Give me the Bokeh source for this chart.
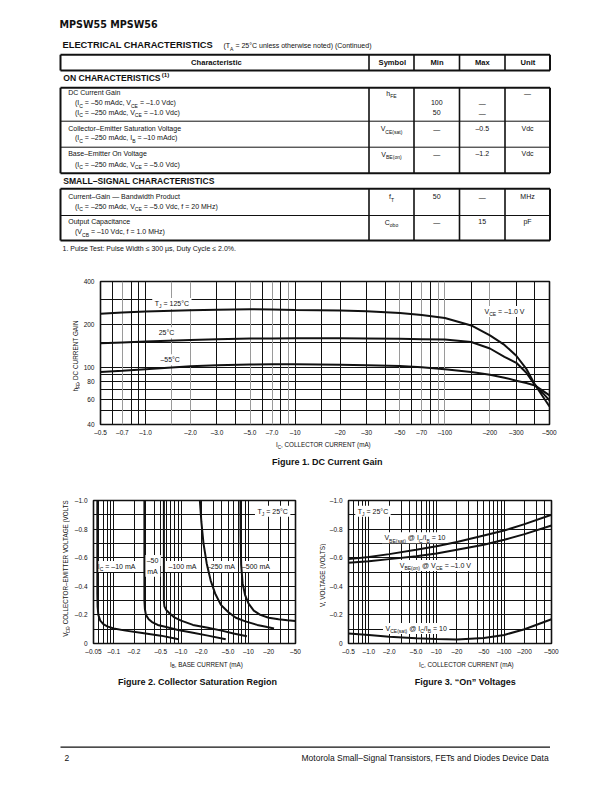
import math
import re
from bokeh.plotting import figure
from bokeh.models import FixedTicker, Grid, Range1d
from bokeh.layouts import column, row
from bokeh.core.properties import value
from bokeh.embed import file_html
from bokeh.resources import INLINE

FONT = "Liberation Sans"
INK = "#111111"
GRAY = "#9a9a9a"

# ---------------- Figure 1: DC current gain ----------------
fig1_ic = [0.5, 0.7, 1.0, 2.0, 3.0, 5.0, 7.0, 10, 20, 30, 50, 70, 100, 150, 200, 250, 300, 350, 400, 450, 500]
fig1_hfe_125 = [238, 243, 247, 252, 254, 256, 255, 253, 251, 248, 241, 233, 222, 197, 168, 144, 121, 98, 76, 63, 53.5]
fig1_hfe_25 = [148, 150, 152, 156, 158, 159.5, 160, 160.5, 160.5, 160, 159, 158, 157, 151, 136, 119, 108, 92, 75.5, 66.5, 59]
fig1_hfe_m55 = [93, 95, 97.5, 102, 104, 105, 105.5, 105.5, 104.5, 104, 102.5, 100.5, 97.5, 93, 89, 85, 81, 78, 75, 69, 64]
fig1_xticks = [0.5, 0.7, 1.0, 2.0, 3.0, 5.0, 7.0, 10, 20, 30, 50, 70, 100, 200, 300, 500]
fig1_xlabels = ["–0.5", "–0.7", "–1.0", "–2.0", "–3.0", "–5.0", "–7.0", "–10", "–20", "–30",
                "–50", "–70", "–100", "–200", "–300", "–500"]
fig1_yticks = [40, 60, 80, 100, 200, 400]
fig1_ylabels = ["40", "60", "80", "100", "200", "400"]
fig1_xgrid = [0.6, 0.8, 0.9, 1.0, 3, 4, 6, 8, 10, 15, 20, 30, 40, 60, 80, 150, 300, 400]
fig1_xgrid_light = [0.7, 1.5, 2, 5, 7, 9, 50, 70, 90, 100, 200]
fig1_ygrid = [50, 60, 70, 80, 90, 100, 150, 200, 300]
fig1_labels = [("T_{J} = 125°C", 1.5, 281), ("25°C", 1.38, 175), ("–55°C", 1.46, 113.5),
               ("V_{CE} = –1.0 V", 250, 247)]

# ---------------- Figure 2: collector saturation region ----------------
fig2_ib_10 = [0.057, 0.057, 0.0575, 0.059, 0.063, 0.07, 0.08, 0.1, 0.15, 0.25, 0.5, 0.92]
fig2_vce_10 = [1.0, 0.35, 0.26, 0.20, 0.16, 0.135, 0.12, 0.105, 0.09, 0.075, 0.055, 0.03]
fig2_ib_50 = [0.285, 0.285, 0.29, 0.30, 0.33, 0.37, 0.45, 0.6, 0.9, 1.5, 2.5, 4.6]
fig2_vce_50 = [1.0, 0.30, 0.24, 0.20, 0.17, 0.15, 0.13, 0.115, 0.095, 0.075, 0.055, 0.03]
fig2_ib_100 = [0.555, 0.555, 0.565, 0.6, 0.66, 0.78, 1.0, 1.5, 2.5, 4.0, 6.0, 9.5]
fig2_vce_100 = [1.0, 0.30, 0.26, 0.235, 0.215, 0.185, 0.16, 0.13, 0.11, 0.09, 0.07, 0.05]
fig2_ib_250 = [1.9, 2.0, 2.15, 2.4, 2.75, 3.2, 3.9, 5.0, 6.5, 9.0, 13.5, 19, 24]
fig2_vce_250 = [1.0, 0.85, 0.70, 0.56, 0.44, 0.35, 0.27, 0.22, 0.18, 0.155, 0.13, 0.115, 0.105]
fig2_ib_500 = [7.6, 7.65, 7.8, 8.2, 8.9, 10, 12, 15, 20, 28, 38, 50]
fig2_vce_500 = [1.0, 0.75, 0.55, 0.42, 0.34, 0.28, 0.23, 0.2, 0.18, 0.17, 0.163, 0.158]
fig2_xticks = [0.05, 0.1, 0.2, 0.5, 1.0, 2.0, 5.0, 10, 20, 50]
fig2_xlabels = ["–0.05", "–0.1", "–0.2", "–0.5", "–1.0", "–2.0", "–5.0", "–10", "–20", "–50"]
fig2_xgrid = [0.06, 0.07, 0.08, 0.09, 0.1, 0.2, 0.3, 0.4, 0.5, 0.6, 0.7, 0.8, 0.9, 1, 2, 3, 4, 5,
              6, 7, 8, 9, 10, 20, 30, 40]
fig2_labels = [("I_{C} = –10 mA", 0.11, 0.539), ("–50", 0.376, 0.581), ("mA", 0.376, 0.505),
               ("–100 mA", 1.05, 0.539), ("–250 mA", 3.9, 0.539), ("–500 mA", 12.9, 0.539),
               ("T_{J} = 25°C", 22.9, 0.925)]

# ---------------- Figure 3: "On" voltages ----------------
fig3_ic = [0.5, 1.0, 2.0, 5.0, 10, 20, 50, 100, 200, 500]
fig3_vbe_sat = [0.59, 0.605, 0.625, 0.655, 0.68, 0.71, 0.755, 0.79, 0.835, 0.90]
fig3_vbe_on = [0.565, 0.575, 0.59, 0.61, 0.63, 0.655, 0.69, 0.725, 0.765, 0.825]
fig3_vce_sat = [0.07, 0.06, 0.048, 0.037, 0.031, 0.028, 0.038, 0.06, 0.10, 0.17]
fig3_xticks = [0.5, 1.0, 2.0, 5.0, 10, 20, 50, 100, 200, 500]
fig3_xlabels = ["–0.5", "–1.0", "–2.0", "–5.0", "–10", "–20", "–50", "–100", "–200", "–500"]
fig3_xgrid = [0.6, 0.7, 0.8, 0.9, 1, 2, 3, 4, 5, 6, 7, 8, 9, 10, 20, 30, 40, 50, 60, 70, 80, 90,
              100, 200, 300, 400]
fig3_labels = [("T_{J} = 25°C", 1.15, 0.925), ("V_{BE(sat)} @ I_{C}/I_{B} = 10", 4.8, 0.74),
               ("V_{BE(on)} @ V_{CE} = –1.0 V", 9.6, 0.546),
               ("V_{CE(sat)} @ I_{C}/I_{B} = 10", 5.0, 0.105)]

volt_ticks = [0, 0.2, 0.4, 0.6, 0.8, 1.0]
volt_labels = ["0", "–0.2", "–0.4", "–0.6", "–0.8", "–1.0"]
volt_grid = [0.1, 0.2, 0.3, 0.4, 0.5, 0.6, 0.7, 0.8, 0.9]

# ---------------- Table content ----------------
table_head = ["Characteristic", "Symbol", "Min", "Max", "Unit"]
table_rows = [
    {"lines": ["DC Current Gain", "(I_{C} = –50 mAdc, V_{CE} = –1.0 Vdc)", "(I_{C} = –250 mAdc, V_{CE} = –1.0 Vdc)"],
     "symbol": "h_{FE}", "min": ["", "100", "50"], "max": ["", "—", "—"], "unit": ["—", "", ""]},
    {"lines": ["Collector–Emitter Saturation Voltage", "(I_{C} = –250 mAdc, I_{B} = –10 mAdc)"],
     "symbol": "V_{CE(sat)}", "min": ["—", ""], "max": ["–0.5", ""], "unit": ["Vdc", ""]},
    {"lines": ["Base–Emitter On Voltage", "(I_{C} = –250 mAdc, V_{CE} = –5.0 Vdc)"],
     "symbol": "V_{BE(on)}", "min": ["—", ""], "max": ["–1.2", ""], "unit": ["Vdc", ""]},
    {"lines": ["Current–Gain — Bandwidth Product", "(I_{C} = –250 mAdc, V_{CE} = –5.0 Vdc, f = 20 MHz)"],
     "symbol": "f_{T}", "min": ["50", ""], "max": ["—", ""], "unit": ["MHz", ""]},
    {"lines": ["Output Capacitance", "(V_{CB} = –10 Vdc, f = 1.0 MHz)"],
     "symbol": "C_{obo}", "min": ["—", ""], "max": ["15", ""], "unit": ["pF", ""]},
]

# ---------------- text helpers ----------------
W = {' ': 278, '!': 278, '"': 355, '%': 889, '&': 667, "'": 191, '(': 333, ')': 333, '+': 584,
     ',': 278, '-': 333, '.': 278, '/': 278, ':': 278, ';': 278, '<': 584, '=': 584, '>': 584,
     '@': 1015, 'A': 667, 'B': 667, 'C': 722, 'D': 722, 'E': 667, 'F': 611, 'G': 778, 'H': 722,
     'I': 278, 'J': 500, 'K': 667, 'L': 556, 'M': 833, 'N': 722, 'O': 778, 'P': 667, 'Q': 778,
     'R': 722, 'S': 667, 'T': 611, 'U': 722, 'V': 667, 'W': 944, 'X': 667, 'Y': 667, 'Z': 611,
     'a': 556, 'b': 556, 'c': 500, 'd': 556, 'e': 556, 'f': 278, 'g': 556, 'h': 556, 'i': 222,
     'j': 222, 'k': 500, 'l': 222, 'm': 833, 'n': 556, 'o': 556, 'p': 556, 'q': 556, 'r': 333,
     's': 500, 't': 278, 'u': 556, 'v': 500, 'w': 722, 'x': 500, 'y': 500, 'z': 500,
     '–': 556, '—': 1000, '−': 584, '°': 400, 'µ': 556, '≤': 549, '“': 333, '”': 333}


def tw(s, size, bold=False):
    return sum(W.get(c, 556) for c in s) * size / 1000.0 * (1.02 if bold else 1.0)


def parse(s):
    out = []
    for part in re.split(r'(_\{[^}]*\}|\^\{[^}]*\})', s):
        if not part:
            continue
        if part.startswith('_{'):
            out.append((part[2:-1], 'b'))
        elif part.startswith('^{'):
            out.append((part[2:-1], 'p'))
        else:
            out.append((part, 'n'))
    return out


SUB = 0.72
BASE = {'n': 'middle', 'b': 'top', 'p': 'bottom'}
ROT_FIX = 13.0   # empirical correction for rotated text placement


def measure(s, size, bold=False):
    total = 0.0
    for t, k in parse(s):
        total += tw(t, size if k == 'n' else size * SUB, bold)
    return total


def rich(p, x, y, s, size, align='left', bold=False, angle=0.0, mode='page', font=FONT):
    """Draw text with sub/superscripts. In 'page' mode x, y are page pixels
    (the page figures use y_data = -page_y)."""
    total = measure(s, size, bold)
    start = {'left': 0.0, 'center': -total / 2.0, 'right': -total}[align]
    pos = 0.0
    for t, k in parse(s):
        sz = size if k == 'n' else size * SUB
        lead = len(t) - len(t.lstrip(' '))
        shown = t.strip(' ')
        off = start + pos + tw(' ' * lead, sz, bold)
        pos += tw(t, sz, bold)
        if not shown:
            continue
        kw = dict(text=[shown], text_font=value(font), text_font_size=f"{sz:.2f}px",
                  text_font_style='bold' if bold else 'normal', text_color=INK,
                  text_align='left', text_baseline=BASE[k], angle=angle)
        if mode == 'page':
            if angle == 0:
                p.text(x=[x + off], y=[-y], **kw)
            else:
                p.text(x=[x], y=[-y + off - ROT_FIX], **kw)
        else:
            p.text(x=[x], y=[y], x_offset=off, **kw)
    return total


def page_fig(x0, x1, y0, y1):
    p = figure(width=x1 - x0, height=y1 - y0, x_range=Range1d(x0, x1), y_range=Range1d(-y1, -y0),
               output_backend="svg", toolbar_location=None, title=None, min_border=0,
               x_axis_location=None, y_axis_location=None)
    p.outline_line_color = None
    p.background_fill_color = "white"
    p.border_fill_color = "white"
    for g in p.grid:
        g.visible = False
    return p


def hline(p, x0, x1, ys, width):
    p.segment(x0=[x0] * len(ys), y0=[-v for v in ys], x1=[x1] * len(ys), y1=[-v for v in ys],
              line_color=INK, line_width=width)


def vline(p, xs, y0, y1, width):
    p.segment(x0=xs, y0=[-y0] * len(xs), x1=xs, y1=[-y1] * len(xs), line_color=INK, line_width=width)


def chart(width, height, xr, yr, xtype, ytype, borders):
    p = figure(width=width, height=height, x_range=Range1d(*xr), y_range=Range1d(*yr),
               x_axis_type=xtype, y_axis_type=ytype, output_backend="svg",
               toolbar_location=None, title=None,
               min_border_left=borders[0], min_border_right=borders[1],
               min_border_top=borders[2], min_border_bottom=borders[3])
    p.outline_line_color = INK
    p.outline_line_width = 1.6
    p.outline_line_alpha = 1.0
    p.background_fill_color = "white"
    p.border_fill_color = "white"
    for ax in list(p.xaxis) + list(p.yaxis):
        ax.axis_line_color = None
        ax.major_tick_line_color = None
        ax.minor_tick_line_color = None
        ax.major_tick_out = 0
        ax.major_tick_in = 0
        ax.minor_tick_out = 0
        ax.minor_tick_in = 0
        ax.axis_label = None
        ax.axis_label_standoff = 0
        ax.major_label_text_font = FONT
        ax.major_label_text_font_size = "6.5px"
        ax.major_label_text_color = INK
    p.xaxis.major_label_standoff = 4
    p.yaxis.major_label_standoff = 6
    return p


def ticks(p, xt, xl, yt, yl, xg, yg):
    p.xaxis.ticker = FixedTicker(ticks=xt)
    p.xaxis.major_label_overrides = dict(zip(xt, xl))
    p.yaxis.ticker = FixedTicker(ticks=yt)
    p.yaxis.major_label_overrides = dict(zip(yt, yl))
    p.xgrid.ticker = FixedTicker(ticks=xg)
    p.ygrid.ticker = FixedTicker(ticks=yg)
    for g in p.grid:
        g.grid_line_color = INK
        g.grid_line_width = 1
        g.grid_line_alpha = 1.0


def chart_labels(p, labels, size=7.0):
    for s, x, y in labels:
        w = measure(s, size)
        p.rect(x=[x], y=[y], width=[w + 5], height=[size + 4], width_units="screen",
               height_units="screen", fill_color="white", line_color=None)


def chart_texts(p, labels, size=7.0):
    for s, x, y in labels:
        rich(p, x, y, s, size, align='center', mode='chart')


# ---------------- header / table ----------------
hdr = page_fig(0, 604, 0, 272)
hdr.text(x=[59], y=[-24.3], text=["MPSW55 MPSW56"], text_font=value("DejaVu Sans"),
         text_font_style="bold", text_font_size="9.6px", text_baseline="middle",
         text_align="left", text_color=INK)
rich(hdr, 62, 44, "ELECTRICAL CHARACTERISTICS", 9.3, bold=True)
rich(hdr, 223, 45, "(T_{A} = 25°C unless otherwise noted) (Continued)", 7)

TX = [60, 368.5, 413.5, 459, 504.5, 549.5]
col_center = [(TX[i] + TX[i + 1]) / 2 for i in range(5)]


def box(p, top, bottom, rowlines):
    if rowlines:
        hline(p, TX[0], TX[-1], rowlines, 1)
    vline(p, TX[1:5], top, bottom, 1.6)
    hline(p, TX[0], TX[-1], [top, bottom], 2)
    vline(p, [TX[0], TX[-1]], top, bottom, 2)


box(hdr, 54.3, 70, [])
for i, h in enumerate(table_head):
    rich(hdr, col_center[i], 62, h, 7.6, align='center', bold=True)

rich(hdr, 62.7, 77, "ON CHARACTERISTICS^{(1)}", 8.6, bold=True)
box(hdr, 87.3, 172.7, [120.7, 146.7])
rich(hdr, 62.7, 180.3, "SMALL–SIGNAL CHARACTERISTICS", 8.6, bold=True)
box(hdr, 188.3, 240, [215])

row_y = [[92.3, 102.3, 111.7], [127.5, 137.3], [153.3, 163.7], [195.7, 205.7], [221, 231]]
for r, ys in zip(table_rows, row_y):
    for j, (line, yy) in enumerate(zip(r["lines"], ys)):
        rich(hdr, 67.7 if j == 0 else 74.5, yy, line, 7.0)
    rich(hdr, col_center[1], ys[0] + 0.5, r["symbol"], 7.0, align='center')
    for key, ci in (("min", 2), ("max", 3), ("unit", 4)):
        for txt, yy in zip(r[key], ys):
            if txt:
                rich(hdr, col_center[ci], yy + (1 if txt == "—" else 0), txt, 7.0, align='center')

rich(hdr, 62, 248, "1.  Pulse Test: Pulse Width ≤ 300 µs, Duty Cycle ≤ 2.0%.", 7.0)

# ---------------- Figure 1 ----------------
yt1 = page_fig(0, 80, 272, 440)
rich(yt1, 75, 352, "h_{FE}, DC CURRENT GAIN", 6.4, align='center', angle=math.pi / 2)

f1 = chart(524, 168, (0.5, 500), (40, 400), "log", "log", (19, 55, 9, 16))
ticks(f1, fig1_xticks, fig1_xlabels, fig1_yticks, fig1_ylabels, fig1_xgrid, fig1_ygrid)
f1.add_layout(Grid(dimension=0, ticker=FixedTicker(ticks=fig1_xgrid_light),
                   grid_line_color=GRAY, grid_line_width=1))
chart_labels(f1, fig1_labels)
for ys in (fig1_hfe_125, fig1_hfe_25, fig1_hfe_m55):
    f1.line(fig1_ic, ys, line_color=INK, line_width=2)
chart_texts(f1, fig1_labels)

cap1 = page_fig(0, 604, 440, 490)
rich(cap1, 323, 444, "I_{C}, COLLECTOR CURRENT (mA)", 6.3, align='center')
rich(cap1, 325, 461, "Figure 1. DC Current Gain", 9.0, align='center', bold=True)

# ---------------- Figure 2 ----------------
yt2 = page_fig(0, 70, 490, 660)
rich(yt2, 65, 568, "V_{CE}, COLLECTOR–EMITTER VOLTAGE (VOLTS)", 6.3, align='center', angle=math.pi / 2)

f2 = chart(240, 170, (0.05, 50), (0, 1.0), "log", "linear", (23, 15, 10, 17))
ticks(f2, fig2_xticks, fig2_xlabels, volt_ticks, volt_labels, fig2_xgrid, volt_grid)
chart_labels(f2, fig2_labels)
for xs, ys in ((fig2_ib_10, fig2_vce_10), (fig2_ib_50, fig2_vce_50), (fig2_ib_100, fig2_vce_100),
               (fig2_ib_250, fig2_vce_250), (fig2_ib_500, fig2_vce_500)):
    f2.line(xs, ys, line_color=INK, line_width=2)
chart_texts(f2, fig2_labels)

# ---------------- Figure 3 ----------------
yt3 = page_fig(310, 326, 490, 660)
rich(yt3, 321.7, 571, "V, VOLTAGE (VOLTS)", 6.4, align='center', angle=math.pi / 2)

f3 = chart(278, 170, (0.5, 500), (0, 1.0), "log", "linear", (21, 53, 10, 17))
ticks(f3, fig3_xticks, fig3_xlabels, volt_ticks, volt_labels, fig3_xgrid, volt_grid)
chart_labels(f3, fig3_labels)
for ys in (fig3_vbe_sat, fig3_vbe_on, fig3_vce_sat):
    f3.line(fig3_ic, ys, line_color=INK, line_width=2)
chart_texts(f3, fig3_labels)

# ---------------- captions + footer ----------------
bot = page_fig(0, 604, 660, 784)
rich(bot, 206, 663.5, "I_{B}, BASE CURRENT (mA)", 6.3, align='center')
rich(bot, 466, 663.5, "I_{C}, COLLECTOR CURRENT (mA)", 6.3, align='center')
rich(bot, 193, 681, "Figure 2. Collector Saturation Region", 9.0, align='center', bold=True)
rich(bot, 462, 681, "Figure 3. “On” Voltages", 9.0, align='center', bold=True)
hline(bot, 60, 549.5, [746.7], 1.2)
rich(bot, 64, 757.7, "2", 8.5)
rich(bot, 549.5, 757.7, "Motorola Small–Signal Transistors, FETs and Diodes Device Data", 8.5, align='right')

page = column(hdr, row(yt1, f1), cap1, row(yt2, f2, yt3, f3), bot)

with open("out.html", "w") as fh:
    fh.write(file_html(page, INLINE, "MPSW55 MPSW56"))
